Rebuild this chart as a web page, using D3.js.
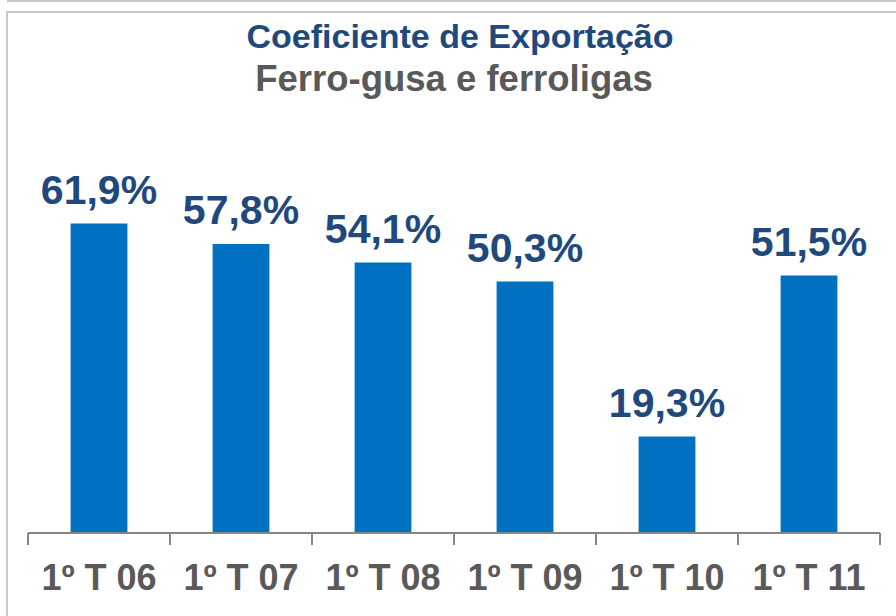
<!DOCTYPE html>
<html>
<head>
<meta charset="utf-8">
<script src="https://cdn.jsdelivr.net/npm/d3@7"></script>
<style>
  body { margin: 0; background: #fff; }
  svg { display: block; font-family: Arial, "Liberation Sans", sans-serif; }
</style>
</head>
<body>
<div id="chart"></div>
<script>
// data
var categories = ["1º T 06", "1º T 07", "1º T 08", "1º T 09", "1º T 10", "1º T 11"];
var values = [61.9, 57.8, 54.1, 50.3, 19.3, 51.5];
var valueLabels = ["61,9%", "57,8%", "54,1%", "50,3%", "19,3%", "51,5%"];
var titleLines = ["Coeficiente de Exportação", "Ferro-gusa e ferroligas"];

var width = 896, height = 616;

var svg = d3.select("#chart").append("svg")
    .attr("width", width)
    .attr("height", height);

// frame lines
svg.append("line")
    .attr("x1", 7).attr("x2", width).attr("y1", 1).attr("y2", 1)
    .attr("stroke", "#c8c8c8").attr("stroke-width", 2);
svg.append("rect")
    .attr("x", 7).attr("y", 12)
    .attr("width", width + 10).attr("height", height + 10)
    .attr("fill", "none")
    .attr("stroke", "#c8c8c8").attr("stroke-width", 2);

// titles
svg.append("text")
    .attr("x", 460).attr("y", 48)
    .attr("text-anchor", "middle")
    .style("font-size", "34px").style("font-weight", "bold")
    .style("fill", "#1f497d")
    .text(titleLines[0]);
svg.append("text")
    .attr("x", 454).attr("y", 91)
    .attr("text-anchor", "middle")
    .style("font-size", "36.5px").style("font-weight", "bold")
    .style("fill", "#595959")
    .text(titleLines[1]);

// scales
var x = d3.scaleBand()
    .domain(categories)
    .range([28, 880])
    .padding(0);

var y = d3.scaleLinear()
    .domain([0, 80])
    .range([533, 133]);

var barW = x.bandwidth() * 0.4;

// bars
svg.selectAll(".bar")
    .data(values)
    .enter().append("rect")
    .attr("class", "bar")
    .attr("x", function(d, i) { return x(categories[i]) + x.bandwidth() / 2 - barW / 2; })
    .attr("y", function(d) { return y(d); })
    .attr("width", barW)
    .attr("height", function(d) { return y(0) - y(d); })
    .attr("fill", "#0070c0");

// value labels
svg.selectAll(".val")
    .data(values)
    .enter().append("text")
    .attr("class", "val")
    .attr("x", function(d, i) { return x(categories[i]) + x.bandwidth() / 2; })
    .attr("y", function(d) { return y(d) - 20; })
    .attr("text-anchor", "middle")
    .style("font-size", "41px").style("font-weight", "bold")
    .style("fill", "#1f497d")
    .text(function(d, i) { return valueLabels[i]; });

// x axis: baseline with ticks at band edges
var axis = svg.append("g").attr("class", "x axis");
axis.append("line")
    .attr("x1", x.range()[0]).attr("x2", x.range()[1])
    .attr("y1", y(0)).attr("y2", y(0))
    .attr("stroke", "#868686").attr("stroke-width", 2);

var edges = categories.map(function(c) { return x(c); }).concat([x.range()[1]]);
axis.selectAll(".tick")
    .data(edges)
    .enter().append("line")
    .attr("class", "tick")
    .attr("x1", function(d) { return d; }).attr("x2", function(d) { return d; })
    .attr("y1", y(0)).attr("y2", y(0) + 12)
    .attr("stroke", "#868686").attr("stroke-width", 2);

axis.selectAll(".cat")
    .data(categories)
    .enter().append("text")
    .attr("class", "cat")
    .attr("x", function(d) { return x(d) + x.bandwidth() / 2; })
    .attr("y", 590)
    .attr("text-anchor", "middle")
    .style("font-size", "36px").style("font-weight", "bold")
    .style("fill", "#595959")
    .text(function(d) { return d; });
</script>
</body>
</html>
